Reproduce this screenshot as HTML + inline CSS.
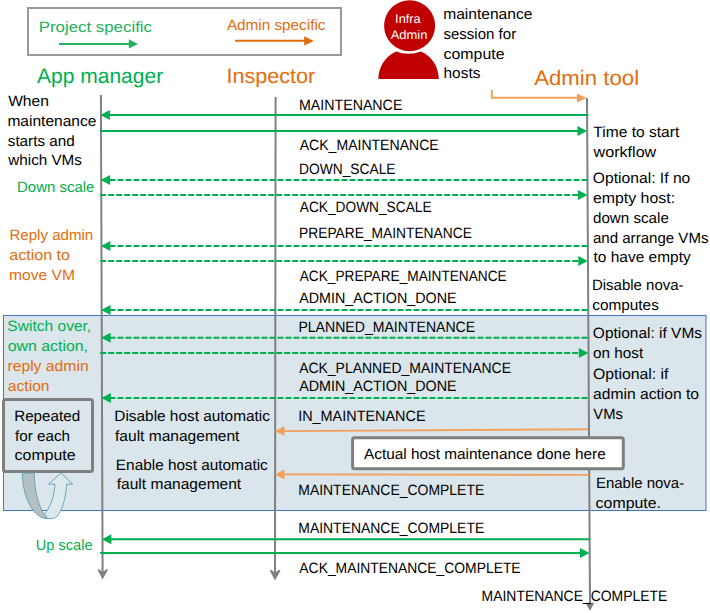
<!DOCTYPE html>
<html><head><meta charset="utf-8"><style>
html,body{margin:0;padding:0;background:#fff;width:710px;height:613px;overflow:hidden}
svg{display:block}
text{font-family:"Liberation Sans",sans-serif;text-rendering:geometricPrecision}
</style></head><body>
<svg width="710" height="613" viewBox="0 0 710 613">
<rect x="3.5" y="315.5" width="702.5" height="195" fill="#DAE6EB" stroke="#4472C4" stroke-width="1"/>
<rect x="28" y="8" width="313" height="47" fill="none" stroke="#999999" stroke-width="2"/>
<line x1="59" y1="43.9" x2="130" y2="43.9" stroke="#27B062" stroke-width="2"/>
<polygon points="138,43.9 128.8,39.3 128.8,48.6" fill="#27B062"/>
<line x1="235" y1="40.8" x2="306" y2="40.8" stroke="#E46C0A" stroke-width="2"/>
<polygon points="313.8,40.9 304.2,36.3 304.2,45.6" fill="#E46C0A"/>
<circle cx="409.6" cy="25.7" r="25.5" fill="#C00000"/>
<path d="M378.3,79 C378.8,68 384,57 396.2,51.6 Q408.6,56 421,51.6 C433.2,57 438.4,68 438.9,79 Z" fill="#C00000"/>
<polyline points="491.8,90 491.8,97.8 578,97.8" fill="none" stroke="#F2A05E" stroke-width="2"/>
<polygon points="586.5,97.9 577,93.5 577,102.5" fill="#F2A05E"/>
<line x1="100.9" y1="95" x2="102.6" y2="575" stroke="#808080" stroke-width="2"/>
<path d="M102.6,578 L98.3,569.6 L102.6,573 L107.2,569.6 Z" fill="#808080" stroke="#808080" stroke-width="1.5" stroke-linejoin="miter"/>
<line x1="275.6" y1="97" x2="275" y2="577" stroke="#808080" stroke-width="2"/>
<path d="M275,579 L270.5,570.3 L275,573.5 L279.8,570.3 Z" fill="#808080" stroke="#808080" stroke-width="1.5"/>
<line x1="587" y1="98" x2="590" y2="604" stroke="#808080" stroke-width="2"/>
<polygon points="590,611 585.5,602.8 594.3,602.8" fill="#808080"/>
<rect x="3.5" y="399.5" width="89" height="72" rx="2" fill="none" stroke="#7F7F7F" stroke-width="3"/>
<path d="M44.2,514.4 C50,508 54,497 55,484.2 L48.5,484.2 L60.9,472.9 L72.7,484.2 L66.8,484.2 C65,505 59,518.6 52,518.6 L47.5,518.6 Z" fill="#DCEAEE" stroke="#5E9FAE" stroke-width="0.9" stroke-linejoin="round"/>
<path d="M22.3,473 C22.5,495 32,517 46,518.6 L47.8,518.6 L44.2,514.4 C38,505 34.5,490 34.2,473 Z" fill="#B3BFC2" stroke="#5E9FAE" stroke-width="0.9" stroke-linejoin="round"/>
<rect x="352.6" y="437.7" width="270.7" height="31" rx="2" fill="#FFFFFF" stroke="#7F7F7F" stroke-width="3"/>
<line x1="588.5" y1="115" x2="109" y2="115" stroke="#00B050" stroke-width="2.0"/>
<polygon points="100.37039337474121,115 109.87039337474121,110 109.87039337474121,120" fill="#00B050"/>
<line x1="100.2" y1="131" x2="579" y2="131" stroke="#00B050" stroke-width="2.0"/>
<polygon points="587,131 577.5,126 577.5,136" fill="#00B050"/>
<line x1="587.5" y1="180" x2="109" y2="180" stroke="#00B050" stroke-width="2.0" stroke-dasharray="6 2"/>
<polygon points="100.59917184265011,180 110.09917184265011,175 110.09917184265011,185" fill="#00B050"/>
<line x1="100.2" y1="195" x2="579.5" y2="195" stroke="#00B050" stroke-width="2.0" stroke-dasharray="6 2"/>
<polygon points="587.5,195 578.0,190 578.0,200" fill="#00B050"/>
<line x1="587.5" y1="246.1" x2="109" y2="246.1" stroke="#00B050" stroke-width="2.0" stroke-dasharray="6 2"/>
<polygon points="100.83182194616978,246.1 110.33182194616978,241.1 110.33182194616978,251.1" fill="#00B050"/>
<line x1="100.2" y1="261" x2="579.8" y2="261" stroke="#00B050" stroke-width="2.0" stroke-dasharray="6 2"/>
<polygon points="587.8,261 578.3,256 578.3,266" fill="#00B050"/>
<line x1="587.5" y1="310" x2="109" y2="310" stroke="#00B050" stroke-width="2.0" stroke-dasharray="6 2"/>
<polygon points="101.05672877846791,310 110.55672877846791,305 110.55672877846791,315" fill="#00B050"/>
<line x1="587.5" y1="337.7" x2="109" y2="337.7" stroke="#00B050" stroke-width="2.0" stroke-dasharray="6 2"/>
<polygon points="101.15422360248448,337.7 110.65422360248448,332.7 110.65422360248448,342.7" fill="#00B050"/>
<line x1="100.2" y1="353.1" x2="580.3" y2="353.1" stroke="#00B050" stroke-width="2.0" stroke-dasharray="6 2"/>
<polygon points="588.3,353.1 578.8,348.1 578.8,358.1" fill="#00B050"/>
<line x1="587.5" y1="398" x2="109" y2="398" stroke="#00B050" stroke-width="2.0" stroke-dasharray="6 2"/>
<polygon points="101.3664596273292,398 110.8664596273292,393 110.8664596273292,403" fill="#00B050"/>
<line x1="588" y1="429.3" x2="283" y2="431.1" stroke="#F2A05E" stroke-width="1.9"/>
<polygon points="275,431.1 284.5,426.1 284.5,436.1" fill="#F2A05E"/>
<line x1="589" y1="474.9" x2="283" y2="474.4" stroke="#F2A05E" stroke-width="1.9"/>
<polygon points="275,474.4 284.5,469.4 284.5,479.4" fill="#F2A05E"/>
<line x1="589.5" y1="539.3" x2="109" y2="539.3" stroke="#00B050" stroke-width="2.0"/>
<polygon points="101.8637888198758,539.3 111.3637888198758,534.3 111.3637888198758,544.3" fill="#00B050"/>
<line x1="100.2" y1="553.1" x2="581.5" y2="553.1" stroke="#00B050" stroke-width="2.0"/>
<polygon points="589.5,553.1 580.0,548.1 580.0,558.1" fill="#00B050"/>
<g font-family="Liberation Sans, sans-serif">
<text id="t0" x="38.68" y="32" font-size="15" fill="#22AF5E" textLength="113.33" lengthAdjust="spacingAndGlyphs">Project specific</text>
<text id="t1" x="226.90" y="30" font-size="15" fill="#E46C0A" textLength="98.56" lengthAdjust="spacingAndGlyphs">Admin specific</text>
<text id="t2" x="36.98" y="82.5" font-size="21" fill="#00B050" textLength="126.17" lengthAdjust="spacingAndGlyphs">App manager</text>
<text id="t3" x="226.44" y="83" font-size="21" fill="#E46C0A" textLength="88.84" lengthAdjust="spacingAndGlyphs">Inspector</text>
<text id="t4" x="534.21" y="84.6" font-size="21" fill="#E46C0A" textLength="104.88" lengthAdjust="spacingAndGlyphs">Admin tool</text>
<text id="t5" x="395.12" y="23" font-size="12.5" fill="#FFFFFF" textLength="25.59" lengthAdjust="spacingAndGlyphs">Infra</text>
<text id="t6" x="390.69" y="38.8" font-size="12.5" fill="#FFFFFF" textLength="36.78" lengthAdjust="spacingAndGlyphs">Admin</text>
<text id="t7" x="443.17" y="18.6" font-size="15" fill="#000000" textLength="89.23" lengthAdjust="spacingAndGlyphs">maintenance</text>
<text id="t8" x="443.47" y="38.7" font-size="15" fill="#000000" textLength="72.68" lengthAdjust="spacingAndGlyphs">session for</text>
<text id="t9" x="443.54" y="58.6" font-size="15" fill="#000000" textLength="61.04" lengthAdjust="spacingAndGlyphs">compute</text>
<text id="t10" x="443.55" y="78.2" font-size="15" fill="#000000" textLength="36.82" lengthAdjust="spacingAndGlyphs">hosts</text>
<text id="t11" x="8.15" y="105.5" font-size="15" fill="#000000" textLength="40.74" lengthAdjust="spacingAndGlyphs">When</text>
<text id="t12" x="7.43" y="125.8" font-size="15" fill="#000000" textLength="89.03" lengthAdjust="spacingAndGlyphs">maintenance</text>
<text id="t13" x="7.77" y="145.6" font-size="15" fill="#000000" textLength="66.93" lengthAdjust="spacingAndGlyphs">starts and</text>
<text id="t14" x="8.32" y="165.3" font-size="15" fill="#000000" textLength="73.62" lengthAdjust="spacingAndGlyphs">which VMs</text>
<text id="t15" x="17.04" y="191.8" font-size="15" fill="#00B050" textLength="77.32" lengthAdjust="spacingAndGlyphs">Down scale</text>
<text id="t16" x="9.40" y="239.7" font-size="15" fill="#E46C0A" textLength="83.84" lengthAdjust="spacingAndGlyphs">Reply admin</text>
<text id="t17" x="9.32" y="259.6" font-size="15" fill="#E46C0A" textLength="60.56" lengthAdjust="spacingAndGlyphs">action to</text>
<text id="t18" x="8.98" y="279.8" font-size="15" fill="#E46C0A" textLength="66.15" lengthAdjust="spacingAndGlyphs">move VM</text>
<text id="t19" x="7.35" y="330.8" font-size="15" fill="#00B050" textLength="83.86" lengthAdjust="spacingAndGlyphs">Switch over,</text>
<text id="t20" x="7.76" y="351" font-size="15" fill="#00B050" textLength="80.27" lengthAdjust="spacingAndGlyphs">own action,</text>
<text id="t21" x="7.43" y="370.8" font-size="15" fill="#E46C0A" textLength="81.22" lengthAdjust="spacingAndGlyphs">reply admin</text>
<text id="t22" x="7.80" y="390.6" font-size="15" fill="#E46C0A" textLength="41.73" lengthAdjust="spacingAndGlyphs">action</text>
<text id="t23" x="14.16" y="420.5" font-size="15" fill="#000000" textLength="65.99" lengthAdjust="spacingAndGlyphs">Repeated</text>
<text id="t24" x="15.12" y="440.7" font-size="15" fill="#000000" textLength="54.89" lengthAdjust="spacingAndGlyphs">for each</text>
<text id="t25" x="14.63" y="460.2" font-size="15" fill="#000000" textLength="60.99" lengthAdjust="spacingAndGlyphs">compute</text>
<text id="t26" x="35.77" y="549.6" font-size="15" fill="#00B050" textLength="56.82" lengthAdjust="spacingAndGlyphs">Up scale</text>
<text id="t27" x="114.34" y="421" font-size="15" fill="#000000" textLength="155.54" lengthAdjust="spacingAndGlyphs">Disable host automatic</text>
<text id="t28" x="115.04" y="440.5" font-size="15" fill="#000000" textLength="124.40" lengthAdjust="spacingAndGlyphs">fault management</text>
<text id="t29" x="115.88" y="469.8" font-size="15" fill="#000000" textLength="151.92" lengthAdjust="spacingAndGlyphs">Enable host automatic</text>
<text id="t30" x="116.78" y="489.2" font-size="15" fill="#000000" textLength="124.42" lengthAdjust="spacingAndGlyphs">fault management</text>
<text id="t31" x="298.97" y="110" font-size="15" fill="#000000" textLength="103.40" lengthAdjust="spacingAndGlyphs">MAINTENANCE</text>
<text id="t32" x="299.76" y="150" font-size="15" fill="#000000" textLength="138.89" lengthAdjust="spacingAndGlyphs">ACK_MAINTENANCE</text>
<text id="t33" x="299.09" y="173.5" font-size="15" fill="#000000" textLength="96.49" lengthAdjust="spacingAndGlyphs">DOWN_SCALE</text>
<text id="t34" x="299.78" y="212" font-size="15" fill="#000000" textLength="131.79" lengthAdjust="spacingAndGlyphs">ACK_DOWN_SCALE</text>
<text id="t35" x="299.09" y="237.6" font-size="15" fill="#000000" textLength="172.77" lengthAdjust="spacingAndGlyphs">PREPARE_MAINTENANCE</text>
<text id="t36" x="299.78" y="280.5" font-size="15" fill="#000000" textLength="206.88" lengthAdjust="spacingAndGlyphs">ACK_PREPARE_MAINTENANCE</text>
<text id="t37" x="299.15" y="302.8" font-size="15" fill="#000000" textLength="157.51" lengthAdjust="spacingAndGlyphs">ADMIN_ACTION_DONE</text>
<text id="t38" x="298.40" y="331.9" font-size="15" fill="#000000" textLength="176.76" lengthAdjust="spacingAndGlyphs">PLANNED_MAINTENANCE</text>
<text id="t39" x="299.15" y="372.7" font-size="15" fill="#000000" textLength="211.84" lengthAdjust="spacingAndGlyphs">ACK_PLANNED_MAINTENANCE</text>
<text id="t40" x="299.15" y="390.9" font-size="15" fill="#000000" textLength="157.51" lengthAdjust="spacingAndGlyphs">ADMIN_ACTION_DONE</text>
<text id="t41" x="298.18" y="420.6" font-size="15" fill="#000000" textLength="127.36" lengthAdjust="spacingAndGlyphs">IN_MAINTENANCE</text>
<text id="t42" x="298.28" y="494.7" font-size="15" fill="#000000" textLength="185.94" lengthAdjust="spacingAndGlyphs">MAINTENANCE_COMPLETE</text>
<text id="t43" x="298.28" y="532.6" font-size="15" fill="#000000" textLength="185.94" lengthAdjust="spacingAndGlyphs">MAINTENANCE_COMPLETE</text>
<text id="t44" x="299.37" y="573.2" font-size="15" fill="#000000" textLength="221.27" lengthAdjust="spacingAndGlyphs">ACK_MAINTENANCE_COMPLETE</text>
<text id="t45" x="481.62" y="600.7" font-size="15" fill="#000000" textLength="185.71" lengthAdjust="spacingAndGlyphs">MAINTENANCE_COMPLETE</text>
<text id="t46" x="593.31" y="136.6" font-size="15" fill="#000000" textLength="85.91" lengthAdjust="spacingAndGlyphs">Time to start</text>
<text id="t47" x="593.59" y="157" font-size="15" fill="#000000" textLength="62.68" lengthAdjust="spacingAndGlyphs">workflow</text>
<text id="t48" x="592.86" y="182.6" font-size="15" fill="#000000" textLength="97.46" lengthAdjust="spacingAndGlyphs">Optional: If no</text>
<text id="t49" x="592.91" y="202.6" font-size="15" fill="#000000" textLength="82.16" lengthAdjust="spacingAndGlyphs">empty host:</text>
<text id="t50" x="593.00" y="222.9" font-size="15" fill="#000000" textLength="75.83" lengthAdjust="spacingAndGlyphs">down scale</text>
<text id="t51" x="592.93" y="242.8" font-size="15" fill="#000000" textLength="115.58" lengthAdjust="spacingAndGlyphs">and arrange VMs</text>
<text id="t52" x="593.52" y="261.8" font-size="15" fill="#000000" textLength="97.16" lengthAdjust="spacingAndGlyphs">to have empty</text>
<text id="t53" x="591.88" y="290" font-size="15" fill="#000000" textLength="91.73" lengthAdjust="spacingAndGlyphs">Disable nova-</text>
<text id="t54" x="592.20" y="310" font-size="15" fill="#000000" textLength="66.69" lengthAdjust="spacingAndGlyphs">computes</text>
<text id="t55" x="592.89" y="337.6" font-size="15" fill="#000000" textLength="109.14" lengthAdjust="spacingAndGlyphs">Optional: if VMs</text>
<text id="t56" x="593.05" y="357.8" font-size="15" fill="#000000" textLength="50.13" lengthAdjust="spacingAndGlyphs">on host</text>
<text id="t57" x="592.98" y="379.4" font-size="15" fill="#000000" textLength="75.56" lengthAdjust="spacingAndGlyphs">Optional: if</text>
<text id="t58" x="593.03" y="399.3" font-size="15" fill="#000000" textLength="106.02" lengthAdjust="spacingAndGlyphs">admin action to</text>
<text id="t59" x="593.34" y="419.1" font-size="15" fill="#000000" textLength="29.53" lengthAdjust="spacingAndGlyphs">VMs</text>
<text id="t60" x="595.92" y="487.8" font-size="15" fill="#000000" textLength="88.25" lengthAdjust="spacingAndGlyphs">Enable nova-</text>
<text id="t61" x="595.63" y="508" font-size="15" fill="#000000" textLength="65.39" lengthAdjust="spacingAndGlyphs">compute.</text>
<text id="t62" x="363.96" y="458.9" font-size="15" fill="#000000" textLength="241.77" lengthAdjust="spacingAndGlyphs">Actual host maintenance done here</text>
</g>
</svg>
</body></html>
